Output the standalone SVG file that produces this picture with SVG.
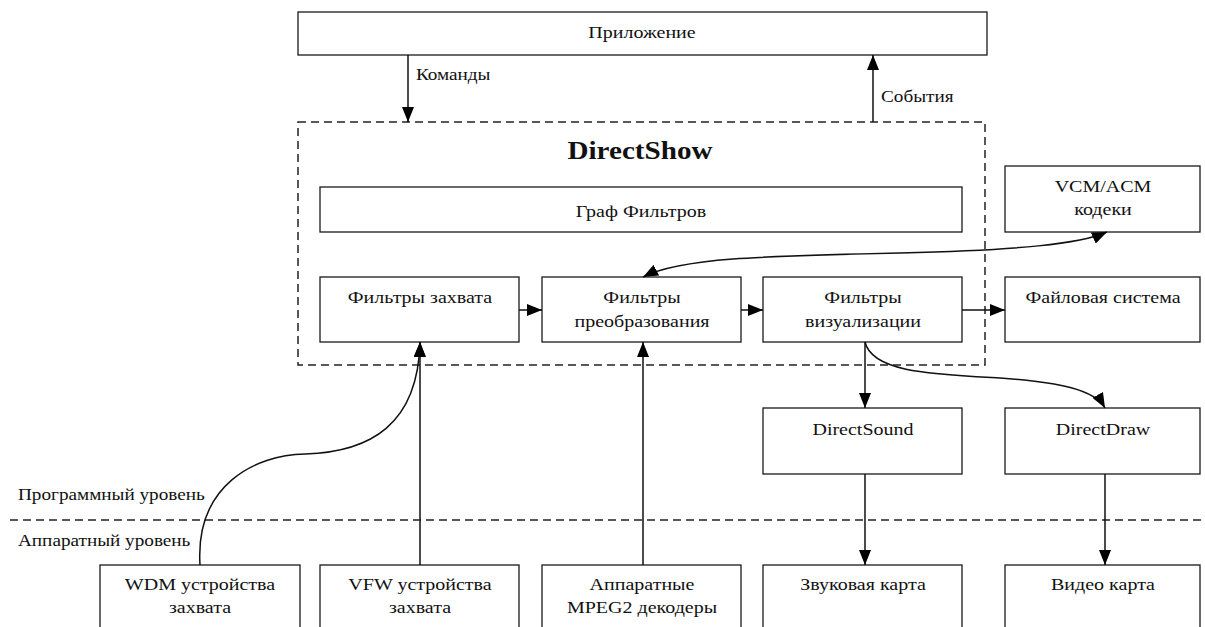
<svg xmlns="http://www.w3.org/2000/svg" width="1205" height="627" viewBox="0 0 1205 627">
<style>
.b{fill:#fff;stroke:#1a1a1a;stroke-width:1.3}
.t{font-family:"Liberation Serif","Times New Roman",serif;font-size:16px;fill:#111;text-anchor:middle}
.l{text-anchor:start}
.c{fill:none;stroke:#111;stroke-width:1.5}
.d{fill:none;stroke:#222;stroke-width:1.5;stroke-dasharray:8 5}
</style>
<defs>
<marker id="a" markerUnits="userSpaceOnUse" markerWidth="16" markerHeight="12" refX="15" refY="6" orient="auto-start-reverse">
<path d="M0,0 L15,6 L0,12 Z" fill="#000"/>
</marker>
</defs>
<rect width="1205" height="627" fill="#fff"/>
<g id="layers">
<rect id="directshow" class="d" x="298" y="122" width="687" height="243"/>
<line class="d" x1="10" y1="520" x2="1205" y2="520"/>
<text class="t l" transform="translate(18,500) scale(1.2,1)">Программный уровень</text>
<text class="t l" transform="translate(18,546) scale(1.2,1)">Аппаратный уровень</text>
<text class="t" style="font-size:26px;font-weight:bold" transform="translate(640,159) scale(1.12,1)">DirectShow</text>
</g>
<g id="app"><rect class="b" x="298" y="12" width="689" height="43"/><text class="t" transform="translate(642,38) scale(1.25,1)">Приложение</text></g>
<g id="graph"><rect class="b" x="320" y="187" width="642" height="45"/><text class="t" transform="translate(641,217) scale(1.25,1)">Граф Фильтров</text></g>
<g id="capture"><rect class="b" x="320" y="277" width="199" height="65"/><text class="t" transform="translate(420,303) scale(1.25,1)">Фильтры захвата</text></g>
<g id="transform"><rect class="b" x="542" y="277" width="199" height="65"/><text class="t" transform="translate(642,303) scale(1.25,1)">Фильтры</text><text class="t" transform="translate(642,327) scale(1.25,1)">преобразования</text></g>
<g id="render"><rect class="b" x="763" y="277" width="199" height="65"/><text class="t" transform="translate(863,303) scale(1.25,1)">Фильтры</text><text class="t" transform="translate(863,327) scale(1.25,1)">визуализации</text></g>
<g id="codecs"><rect class="b" x="1005" y="166" width="195" height="66"/><text class="t" transform="translate(1103,192) scale(1.25,1)">VCM/ACM</text><text class="t" transform="translate(1103,215) scale(1.25,1)">кодеки</text></g>
<g id="fs"><rect class="b" x="1005" y="277" width="195" height="65"/><text class="t" transform="translate(1103,303) scale(1.25,1)">Файловая система</text></g>
<g id="dsound"><rect class="b" x="763" y="408" width="199" height="66"/><text class="t" transform="translate(863,435) scale(1.25,1)">DirectSound</text></g>
<g id="ddraw"><rect class="b" x="1005" y="408" width="195" height="66"/><text class="t" transform="translate(1103,435) scale(1.25,1)">DirectDraw</text></g>
<g id="wdm"><rect class="b" x="100" y="565" width="200" height="70"/><text class="t" transform="translate(200,590) scale(1.25,1)">WDM устройства</text><text class="t" transform="translate(200,613) scale(1.25,1)">захвата</text></g>
<g id="vfw"><rect class="b" x="320" y="565" width="199" height="70"/><text class="t" transform="translate(420,590) scale(1.25,1)">VFW устройства</text><text class="t" transform="translate(420,613) scale(1.25,1)">захвата</text></g>
<g id="mpeg"><rect class="b" x="542" y="565" width="199" height="70"/><text class="t" transform="translate(642,590) scale(1.25,1)">Аппаратные</text><text class="t" transform="translate(642,613) scale(1.25,1)">MPEG2 декодеры</text></g>
<g id="sound"><rect class="b" x="763" y="565" width="199" height="70"/><text class="t" transform="translate(863,590) scale(1.25,1)">Звуковая карта</text></g>
<g id="video"><rect class="b" x="1005" y="565" width="195" height="70"/><text class="t" transform="translate(1103,590) scale(1.25,1)">Видео карта</text></g>
<g id="connectors">
<line class="c" x1="408" y1="55" x2="408" y2="122" marker-end="url(#a)"/>
<text class="t l" transform="translate(416,80) scale(1.2,1)">Команды</text>
<line class="c" x1="873" y1="122" x2="873" y2="55" marker-end="url(#a)"/>
<text class="t l" transform="translate(881,102) scale(1.2,1)">События</text>
<line class="c" x1="519" y1="310" x2="542" y2="310" marker-end="url(#a)"/>
<line class="c" x1="741" y1="310" x2="763" y2="310" marker-end="url(#a)"/>
<line class="c" x1="962" y1="310" x2="1005" y2="310" marker-end="url(#a)"/>
<path class="c" d="M643,277 C680,258 760,256 900,253 C1020,250 1080,244 1107,232" marker-start="url(#a)" marker-end="url(#a)"/>
<line class="c" x1="865" y1="342" x2="865" y2="408" marker-end="url(#a)"/>
<path class="c" d="M865,342 C872,372 930,374 1000,378 C1060,382 1095,390 1105,408" marker-end="url(#a)"/>
<path class="c" d="M200,565 C195,485 255,455 305,454 C370,452 418,425 420,342" marker-end="url(#a)"/>
<line class="c" x1="420" y1="565" x2="420" y2="342" marker-end="url(#a)"/>
<line class="c" x1="643" y1="565" x2="643" y2="342" marker-end="url(#a)"/>
<line class="c" x1="865" y1="474" x2="865" y2="565" marker-end="url(#a)"/>
<line class="c" x1="1105" y1="474" x2="1105" y2="565" marker-end="url(#a)"/>
</g>
</svg>
